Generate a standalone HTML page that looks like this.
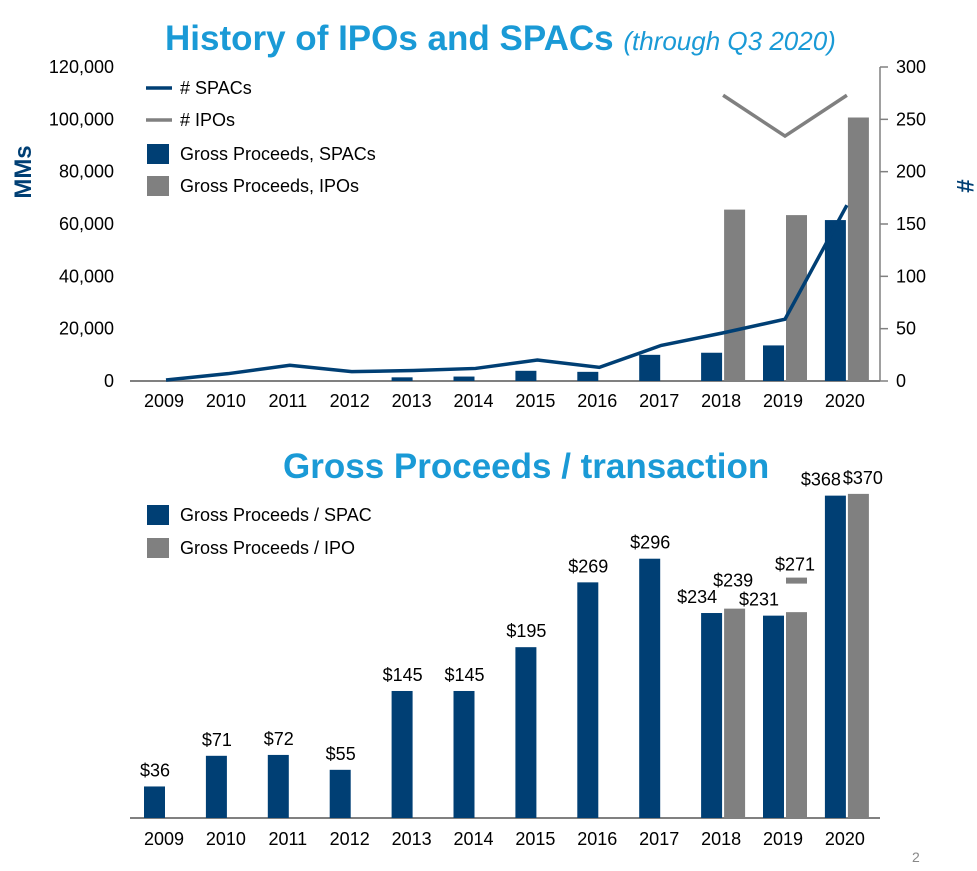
<!DOCTYPE html>
<html><head><meta charset="utf-8"><style>
body{margin:0;background:#fff;width:977px;height:866px;overflow:hidden;font-family:"Liberation Sans",Arial,sans-serif}
svg text{font-family:"Liberation Sans",Arial,sans-serif}
</style></head><body>
<svg id="c" width="977" height="866">
<text x="165" y="50" font-size="35" font-weight="bold" fill="#1a9ad6">History of IPOs and SPACs <tspan font-size="26" font-style="italic" font-weight="normal">(through Q3 2020)</tspan></text>
<text x="283" y="478" font-size="35" font-weight="bold" fill="#1a9ad6">Gross Proceeds / transaction</text>
<text x="31" y="172" font-size="24" font-weight="bold" fill="#003f74" transform="rotate(-90 31 172)" text-anchor="middle">MMs</text>
<text x="957" y="186" font-size="24" font-weight="bold" fill="#003f74" transform="rotate(90 957 186)" text-anchor="middle">#</text>
<text x="912" y="862" font-size="14" fill="#888">2</text>
<g id="topg"></g><g id="botg"></g>
</svg>
<script>
const years=["2009","2010","2011","2012","2013","2014","2015","2016","2017","2018","2019","2020"];
const spacProceeds=[0,0,0,0,1400,1700,3900,3500,10000,10800,13600,61500];
const ipoProceeds=[null,null,null,null,null,null,null,null,null,65500,63400,100700];
const spacCount=[1,7,15,9,10,12,20,13,34,46,59,168];
const ipoCount=[null,null,null,null,null,null,null,null,null,273,234,273];
const leftTicks=[0,20000,40000,60000,80000,100000,120000];
const rightTicks=[0,50,100,150,200,250,300];
const perSpac=[36,71,72,55,145,145,195,269,296,234,231,368];
const perIpo=[null,null,null,null,null,null,null,null,null,239,235,370];
const perIpoLabel=[null,null,null,null,null,null,null,null,null,"$239","$271","$370"];
const perIpoMarker=[null,null,null,null,null,null,null,null,null,null,271,null];

const NS="http://www.w3.org/2000/svg";
function mk(p,t,a,txt){const e=document.createElementNS(NS,t);for(const k in a)e.setAttribute(k,a[k]);if(txt!=null)e.textContent=txt;p.appendChild(e);return e;}
const cx=i=>166+61.9*i;
const DB="#003f74",GR="#808080",FS=18;
const topG=document.getElementById('topg'),botG=document.getElementById('botg');
const yL=v=>381-v*314/120000, yR=v=>381-v*314/300;
let ax=mk(topG,'line',{x1:130,x2:880,y1:381,y2:381,stroke:GR,'stroke-width':2});


let ra=mk(topG,'line',{x1:880,x2:880,y1:67,y2:381,stroke:GR,'stroke-width':1.5});


leftTicks.forEach(t=>{const e=mk(topG,'text',{x:114,y:yL(t)+6,'font-size':FS,'text-anchor':'end'},t.toLocaleString('en-US'));

});
rightTicks.forEach(t=>{const e=mk(topG,'text',{x:896,y:yR(t)+6,'font-size':FS},t);


mk(topG,'line',{x1:880,x2:888,y1:yR(t),y2:yR(t),stroke:GR,'stroke-width':1.5});});
years.forEach((y,i)=>{const e=mk(topG,'text',{x:cx(i)-2,y:407,'font-size':FS,'text-anchor':'middle'},y);


const f=mk(botG,'text',{x:cx(i)-2,y:845,'font-size':FS,'text-anchor':'middle'},y);

});
years.forEach((y,i)=>{
 if(spacProceeds[i]>0){const b=mk(topG,'rect',{x:cx(i)-22,y:yL(spacProceeds[i]),width:21,height:381-yL(spacProceeds[i]),fill:DB});
 
 }
 if(ipoProceeds[i]!=null){const b=mk(topG,'rect',{x:cx(i)+1,y:yL(ipoProceeds[i]),width:21,height:381-yL(ipoProceeds[i]),fill:GR});
 
 }
});
let pts=spacCount.map((v,i)=>cx(i)+','+yR(v)).join(' ');
let l1=mk(topG,'polyline',{points:pts,fill:'none',stroke:DB,'stroke-width':3.5});


let p2=ipoCount.map((v,i)=>v==null?null:cx(i)+','+yR(v)).filter(Boolean).join(' ');
let l2=mk(topG,'polyline',{points:p2,fill:'none',stroke:GR,'stroke-width':3.5});


const lg=[["line",DB,"# SPACs",88],["line",GR,"# IPOs",120],["rect",DB,"Gross Proceeds, SPACs",154],["rect",GR,"Gross Proceeds, IPOs",186]];
lg.forEach(([t,c,s,y])=>{const g=mk(topG,'g',{});
 
 
 if(t=="line")mk(g,'line',{x1:146,x2:172,y1:y,y2:y,stroke:c,'stroke-width':3.5});else mk(g,'rect',{x:147,y:y-10,width:22,height:20,fill:c});
 mk(g,'text',{x:180,y:y+6,'font-size':FS},s);});
const yB=v=>818-v*0.876;
let bx=mk(botG,'line',{x1:130,x2:880,y1:818,y2:818,stroke:GR,'stroke-width':2});


years.forEach((y,i)=>{
 const b=mk(botG,'rect',{x:cx(i)-22,y:yB(perSpac[i]),width:21,height:818-yB(perSpac[i]),fill:DB});
 
 
 const hasIpo=perIpo[i]!=null;
 const t=mk(botG,'text',{x:hasIpo?cx(i)-26:cx(i)-11,y:yB(perSpac[i])-10,'font-size':FS,'text-anchor':'middle'},'$'+perSpac[i]);
 
 
 if(hasIpo){const c=mk(botG,'rect',{x:cx(i)+1,y:yB(perIpo[i]),width:21,height:818-yB(perIpo[i]),fill:GR});
 
 
 const ly=perIpoMarker[i]!=null?yB(perIpoMarker[i])-10:yB(perIpo[i])-(i==9?22:10);
 const u=mk(botG,'text',{x:cx(i)+(i==11?16:10),y:ly,'font-size':FS,'text-anchor':'middle'},perIpoLabel[i]);
 
 }
 if(perIpoMarker[i]!=null){const m=mk(botG,'rect',{x:cx(i)+1,y:yB(perIpoMarker[i])-3,width:21,height:6,fill:GR});
 
 }
});
[[DB,"Gross Proceeds / SPAC",515],[GR,"Gross Proceeds / IPO",548]].forEach(([c,s,y])=>{const g=mk(botG,'g',{});
 
 
 mk(g,'rect',{x:147,y:y-10,width:22,height:20,fill:c});mk(g,'text',{x:180,y:y+6,'font-size':FS},s);});
</script>
</body></html>
